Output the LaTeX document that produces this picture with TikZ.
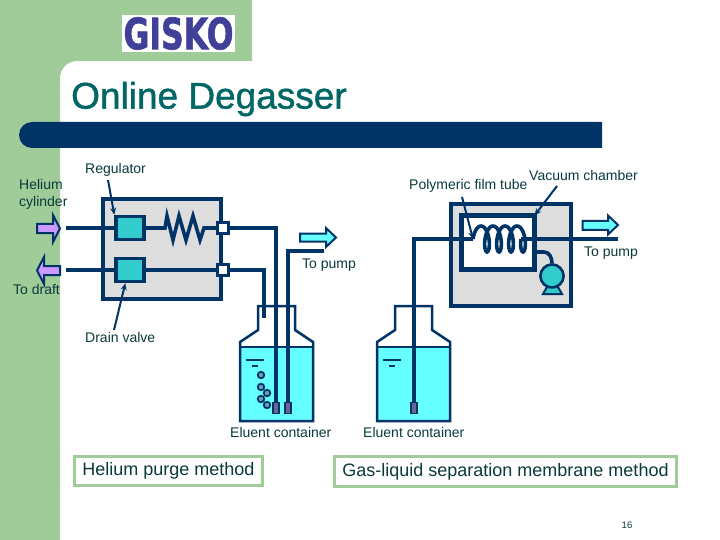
\documentclass[tikz,border=0pt]{standalone}
\usepackage{fontspec}
\usepackage{graphicx}
\setmainfont{Liberation Sans}
\newfontfamily\titlefont[FakeBold=1.2]{Liberation Sans}
\newfontfamily\logofont[FakeBold=1.5]{DejaVu Sans}
\usetikzlibrary{arrows.meta,calc}
\definecolor{navy}{HTML}{003366}
\definecolor{sage}{HTML}{A0CC99}
\definecolor{cyanliq}{HTML}{66FFFF}
\definecolor{tealbox}{HTML}{33CCCC}
\definecolor{purp}{HTML}{CC99FF}
\definecolor{greybox}{HTML}{DDDDDD}
\definecolor{sens}{HTML}{666699}
\definecolor{lab}{HTML}{0A3A3A}
\definecolor{titlec}{HTML}{006666}
\definecolor{logoc}{HTML}{404099}
\tikzset{
 x=1pt,y=-1pt,
 pipe/.style={draw=navy,line width=3.6pt,line join=miter},
 outline/.style={draw=navy,line width=2pt,line join=miter},
 panel/.style={draw=navy,line width=4pt,fill=greybox,minimum width=118pt,minimum height=100pt,inner sep=0,outer sep=0},
 valve/.style={draw=navy,line width=3.4pt,fill=tealbox,minimum width=28pt,minimum height=23pt,inner sep=0},
 port/.style={draw=navy,line width=3pt,fill=white,minimum size=11pt,inner sep=0},
 lbl/.style={font=\fontsize{14}{17}\selectfont,text=lab,inner sep=0,align=left},
 leader/.style={draw=navy,line width=2pt,-{Stealth[length=7pt,width=6pt]}},
 methodbox/.style={draw=sage,line width=3pt,fill=white,inner sep=0,font=\fontsize{18}{20}\selectfont,text=lab},
 sensor/.style={draw=navy,line width=1.8pt,fill=sens,minimum width=6pt,minimum height=11pt,inner sep=0},
 bubble/.style={circle,draw=navy,line width=1.8pt,fill=sens!60!cyanliq,minimum size=6.5pt,inner sep=0},
 level/.style={draw=navy,line width=1.4pt},
 bottleline/.style={navy,line width=2.5pt,line join=miter},
}
\begin{document}
\begin{tikzpicture}
\useasboundingbox (0,0) rectangle (720,540);
% background
\fill[white] (0,0) rectangle (720,540);
\fill[sage] (0,0) -- (252,0) -- (252,61) -- (77,61) arc[start angle=90,end angle=180,radius=17pt] -- (60,540) -- (0,540) -- cycle;
\fill[navy] (602,122) -- (32,122) arc[start angle=90,end angle=270,radius=13pt] -- (602,148) -- cycle;
% logo
\node[fill=white,minimum width=113pt,minimum height=37pt,inner sep=0] (logobox) at (178.5,33.5) {};
\node[inner sep=0,text=logoc] (logo) at (178.5,33.5) {\resizebox{110pt}{32pt}{\logofont\bfseries GISKO}};
% title
\node[anchor=west,inner sep=0,text=titlec,font=\titlefont\fontsize{37}{40}\selectfont] (title) at (71,99) {Online Degasser};
% left panel
\node[panel] (lp) at (162,249) {};
\node[valve] (reg) at (130,228) {};
\node[valve] (drn) at (130,270) {};
\node[port] (p1) at (223,228) {};
\node[port] (p2) at (223,270) {};
\coordinate (h1) at (66,228);
\coordinate (h2) at (66,270);
\coordinate (c1) at (276,228);
\coordinate (c2) at (264,270);
\coordinate (e2) at (264,318);
\coordinate (e1) at (276,403);
\coordinate (t3s) at (324,251);
\coordinate (t3c) at (288,251);
\coordinate (e3) at (288,403);
\coordinate (sp0) at (161,228);
\coordinate (sp1) at (204,228);
% bottles (behind the pipes)
\foreach \bx/\bn in {0/a,137/b}{
 \fill[cyanliq] (240+\bx,347) rectangle (313+\bx,421);
 \draw[bottleline] (258+\bx,306) -- (295+\bx,306) -- (295+\bx,330) -- (313+\bx,342) -- (313+\bx,421) -- (240+\bx,421) -- (240+\bx,342) -- (258+\bx,330) -- cycle;
 \draw[bottleline] (240+\bx,347) -- (313+\bx,347);
 \draw[level] (246+\bx,360) -- (264+\bx,360);
 \draw[level] (252+\bx,366) -- (258+\bx,366);
}
% pipes left
\draw[pipe] (h1) -- (reg);
\draw[pipe] (h2) -- (drn);
\draw[pipe] (drn) -- (p2);
\draw[pipe] (reg) -- (sp0) -- (165,228) -- (167,216) -- (173,240) -- (179,216) -- (186,240) -- (193,216) -- (200,240) -- (sp1) -- (p1);
\draw[pipe] (p1) -- (c1) -- (e1);
\draw[pipe] (p2) -- (c2) -- (e2);
\draw[pipe] (t3s) -- (t3c) -- (e3);
\node[valve] at (reg) {};
\node[valve] at (drn) {};
\node[port] at (p1) {};
\node[port] at (p2) {};
\node[sensor] (s1) at (276,408) {};
\node[sensor] (s2) at (288,408) {};
\node[bubble] (b1) at (261,375) {};
\node[bubble] (b2) at (261,387) {};
\node[bubble] (b3) at (267,393) {};
\node[bubble] (b4) at (261,399) {};
\node[bubble] (b5) at (267,405) {};
% block arrows
\draw[outline,fill=purp] (37,224) -- (53,224) -- (53,215) -- (60,228.5) -- (53,242) -- (53,233) -- (37,233) -- cycle;
\draw[outline,fill=purp] (60,266) -- (44,266) -- (44,257) -- (37,270.5) -- (44,284) -- (44,275) -- (60,275) -- cycle;
\draw[outline,fill=cyanliq] (300,233.5) -- (326,233.5) -- (326,228) -- (336,237.5) -- (326,247) -- (326,241.5) -- (300,241.5) -- cycle;
\draw[outline,fill=cyanliq] (582.5,221) -- (608,221) -- (608,215.5) -- (618,225) -- (608,234.5) -- (608,230) -- (582.5,230) -- cycle;
% right panel
\node[panel,minimum width=120pt,minimum height=101pt] (rp) at (510.5,255) {};
\node[draw=navy,line width=4.4pt,fill=white,minimum width=73pt,minimum height=54pt,inner sep=0,outer sep=0] (vac) at (498,242.5) {};
\coordinate (q0) at (414,239);
\coordinate (q1) at (414,403);
\coordinate (q2) at (473,239);
\coordinate (q3) at (521,239);
\coordinate (q4) at (618,239);
\draw[pipe] (q1) -- (q0) -- (q2);
\draw[pipe,line width=3.6pt] plot[smooth,samples=97,domain=0:1440] ({478+\x/360*12-5*cos(\x)},{239-13*sin(\x)});
\draw[pipe] (q3) -- (q4);
\node[circle,draw=navy,line width=2.5pt,fill=tealbox,minimum size=23pt,inner sep=0] (pump) at (552,276) {};
\draw[navy,line width=2pt,fill=tealbox] (547,287) -- (558,287) -- (562,294) -- (543,294) -- cycle;
\node[circle,draw=navy,line width=2.5pt,fill=tealbox,minimum size=23pt,inner sep=0] at (pump) {};
\coordinate (vo) at (537,252);
\draw[pipe] (vo) -- (544,252) to[out=0,in=90] (pump.north);
\node[sensor] (s3) at (414,408) {};
% labels
\node[lbl,anchor=west] (l1) at (85,169.5) {Regulator};
\node[lbl,anchor=west] (l2) at (19,194) {Helium\\cylinder};
\node[lbl,anchor=west] (l3) at (13,289) {To draft};
\node[lbl,anchor=west] (l4) at (85,337) {Drain valve};
\node[lbl,anchor=west] (l5) at (302,265) {To pump};
\node[lbl,anchor=west] (l6) at (409,186) {Polymeric film tube};
\node[lbl,anchor=west] (l7) at (529,175) {Vacuum chamber};
\node[lbl,anchor=west] (l8) at (584,253) {To pump};
\node[lbl,anchor=west] (l9) at (230,432) {Eluent container};
\node[lbl,anchor=west] (l10) at (363,432) {Eluent container};
\coordinate (ar1) at (108,180);
\coordinate (ar2) at (114,330);
\coordinate (ar3) at (462,197);
\coordinate (ar4) at (557,186);
\draw[leader] (ar1) -- (reg.north west);
\draw[leader] (ar2) -- ($(drn.south west)+(11,0)$);
\draw[leader] (ar3) -- (q2);
\draw[leader] (ar4) -- (vac.north east);
% method boxes
\node[methodbox,minimum width=188pt,minimum height=29pt] (m1) at (168.5,471) {Helium purge method};
\node[methodbox,minimum width=342pt,minimum height=30pt] (m2) at (505.5,471.5) {Gas-liquid separation membrane method};
\node[inner sep=0,text=lab,font=\fontsize{9.5}{10}\selectfont] (pg) at (627,525) {16};
\end{tikzpicture}
\end{document}
